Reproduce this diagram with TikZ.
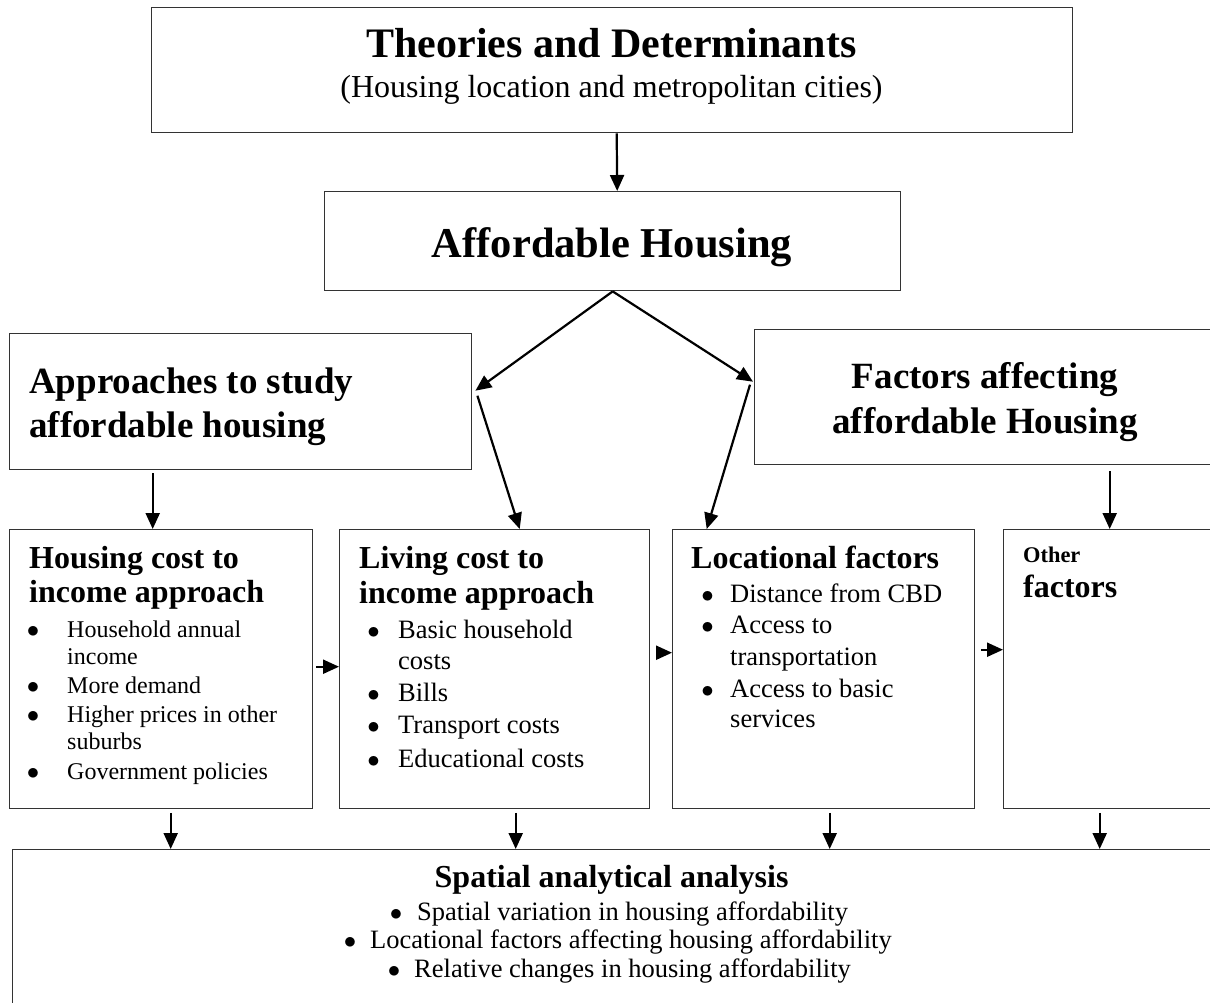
\documentclass[tikz,border=0pt]{standalone}
\usepackage{fontspec}
\setmainfont{Liberation Serif}
\usetikzlibrary{arrows.meta}
\newcommand\fsz[1]{\fontsize{#1}{#1}\selectfont}
\newcommand\bul[1]{\llap{$\bullet$\hspace{#1}}}
\begin{document}
\begin{tikzpicture}[x=1pt,y=-1pt,
  box/.style={draw=black!80, line width=1.4pt, rectangle, inner sep=0pt, anchor=north west},
  arr/.style={draw=black, line width=2.2pt, -{Triangle[length=16pt,width=14pt]}},
  txt/.style={anchor=base west, inner sep=0pt},
  ctr/.style={anchor=base, inner sep=0pt},
  head/.style={txt, font=\fsz{32}\bfseries},
  big/.style={font=\fsz{37}\bfseries},
  sm/.style={txt, font=\fsz{24}},
  md/.style={txt, font=\fsz{26.5}}
]
\clip (0,0) rectangle (1210,1002);
\fill[white] (0,0) rectangle (1210,1002);

% boxes
\node[box, minimum width=921pt, minimum height=125pt] (top) at (151,7) {};
\node[box, minimum width=576pt, minimum height=99pt] (afford) at (324,191) {};
\node[box, minimum width=462pt, minimum height=136pt] (approach) at (9,333) {};
\node[box, minimum width=470pt, minimum height=135pt] (factors) at (754,329) {};
\node[box, minimum width=303pt, minimum height=279pt] (housing) at (9,529) {};
\node[box, minimum width=310pt, minimum height=279pt] (living) at (339,529) {};
\node[box, minimum width=302pt, minimum height=279pt] (locat) at (672,529) {};
\node[box, minimum width=230pt, minimum height=279pt] (other) at (1003,529) {};
\node[box, minimum width=1220pt, minimum height=170pt] (spatial) at (12,849) {};

% top boxes text
\node[ctr, font=\fsz{42}\bfseries] (titleA) at (611.5,57) {Theories and Determinants};
\node[ctr, font=\fsz{32}] (titleB) at (611.5,97) {(Housing location and metropolitan cities)};
\node[ctr, font=\fsz{42.5}\bfseries] (affT) at (612,257) {Affordable Housing};

\node[txt, big] (apA) at (29,393) {Approaches to study};
\node[txt, big] (apB) at (29,437) {affordable housing};
\node[ctr, big] (faA) at (985,388) {Factors affecting};
\node[ctr, big] (faB) at (985,433) {affordable Housing};

% housing cost box
\node[head] (hcA) at (29,568) {Housing cost to};
\node[head] (hcB) at (29,602) {income approach};
\node[sm] (hc1) at (67,637) {\bul{28pt}Household annual};
\node[sm] (hc1b) at (67,664) {income};
\node[sm] (hc2) at (67,693) {\bul{28pt}More demand};
\node[sm] (hc3) at (67,722) {\bul{28pt}Higher prices in other};
\node[sm] (hc3b) at (67,749) {suburbs};
\node[sm] (hc4) at (67,779) {\bul{28pt}Government policies};

% living cost box
\node[head] (lcA) at (359,568) {Living cost to};
\node[head] (lcB) at (359,603) {income approach};
\node[md] (lc1) at (398,638) {\bul{18.5pt}Basic household};
\node[md] (lc1b) at (398,669) {costs};
\node[md] (lc2) at (398,701) {\bul{18.5pt}Bills};
\node[md] (lc3) at (398,733) {\bul{18.5pt}Transport costs};
\node[md] (lc4) at (398,767) {\bul{18.5pt}Educational costs};

% locational factors box
\node[head] (lfA) at (691,568) {Locational factors};
\node[md] (lf1) at (730,602) {\bul{16.5pt}Distance from CBD};
\node[md] (lf2) at (730,633) {\bul{16.5pt}Access to};
\node[md] (lf2b) at (730,665) {transportation};
\node[md] (lf3) at (730,697) {\bul{16.5pt}Access to basic};
\node[md] (lf3b) at (730,727) {services};

% other factors box
\node[txt, font=\fsz{22.4}\bfseries] (ofA) at (1023,562) {Other};
\node[head] (ofB) at (1023,597) {factors};

% spatial analysis box
\node[ctr, font=\fsz{32}\bfseries] (saT) at (611.6,887) {Spatial analytical analysis};
\node[md] (sa1) at (417,920) {\bul{15pt}Spatial variation in housing affordability};
\node[md] (sa2) at (370,948) {\bul{14pt}Locational factors affecting housing affordability};
\node[md] (sa3) at (414,977) {\bul{14pt}Relative changes in housing affordability};

% connectors
\draw[arr] ([xshift=4.5pt]top.south) -- ([xshift=4.5pt]afford.north);

\coordinate (apIn) at ([xshift=3pt,yshift=11pt]approach.east);
\coordinate (faIn) at ([xshift=-1pt,yshift=15.5pt]factors.west);
\draw[arr] (afford.south) -- (apIn);
\draw[arr] (afford.south) -- (faIn);

\coordinate (apOut) at ([xshift=5pt,yshift=6pt]approach.east);
\coordinate (lvTop) at ([xshift=25pt]living.north);
\draw[arr] (apOut) -- (lvTop);
\coordinate (faOut) at ([xshift=-4pt,yshift=12.5pt]factors.west);
\coordinate (lfTop) at ([xshift=-117pt]locat.north);
\draw[arr] (faOut) -- (lfTop);

\coordinate (hcTop) at ([xshift=-8.5pt]housing.north);
\draw[arr, shorten <=3pt] (approach.south -| hcTop) -- (hcTop);
\coordinate (ofTop) at ([xshift=-9pt]other.north);
\draw[arr, shorten <=6pt] (factors.south -| ofTop) -- (ofTop);

\coordinate (lvSide) at ([yshift=2.5pt]living.west);
\draw[arr, shorten <=3pt] (housing.east |- lvSide) -- (lvSide);
\coordinate (lfSide) at ([yshift=16.5pt]locat.west);
\draw[arr, shorten <=7pt] (living.east |- lfSide) -- (lfSide);
\coordinate (ofSide) at ([yshift=19.5pt]other.west);
\draw[arr, shorten <=6pt] (locat.east |- ofSide) -- (ofSide);

\coordinate (hcBot) at ([xshift=9.5pt]housing.south);
\coordinate (lvBot) at ([xshift=21pt]living.south);
\coordinate (lfBot) at ([xshift=6pt]locat.south);
\coordinate (ofBot) at ([xshift=-19pt]other.south);
\foreach \c in {hcBot,lvBot,lfBot,ofBot}
  \draw[arr, shorten <=3.5pt] (\c) -- (\c |- spatial.north);
\end{tikzpicture}
\end{document}
